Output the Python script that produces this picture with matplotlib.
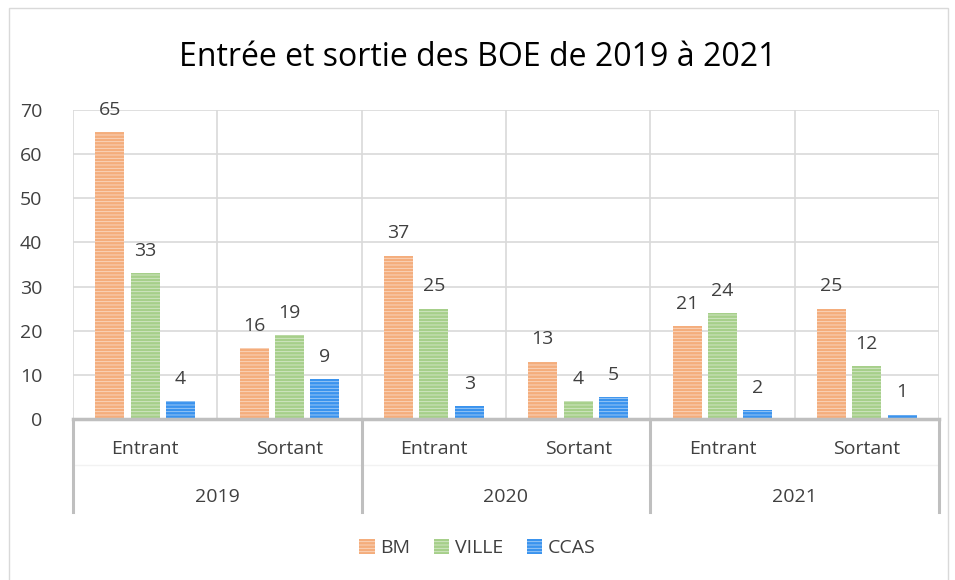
import matplotlib.pyplot as plt
import matplotlib.transforms as mtransforms
from matplotlib.colors import to_rgb
import numpy as np

plt.rcParams['font.family'] = ['Open Sans', 'DejaVu Sans']
plt.rcParams['hatch.linewidth'] = 0.6

years = ["2019", "2020", "2021"]
kinds = ["Entrant", "Sortant"]
series = ["BM", "VILLE", "CCAS"]
bm = [65, 16, 37, 13, 21, 25]
ville = [33, 19, 25, 4, 24, 12]
ccas = [4, 9, 3, 5, 2, 1]
colors = ["#F4AD7C", "#A6CF8A", "#3A93EE"]

fig = plt.figure(figsize=(9.55, 5.8), dpi=100)
ax = fig.add_axes([0.0764, 0.2776, 0.9068, 0.5327])

n = len(bm)
x = np.arange(n)
width = 0.2
step = 0.245
text_col = "#404040"
grid_col = "#D9D9D9"
fs = 14


def lighter(c, f=0.55):
    r, g, b = to_rgb(c)
    return (r + (1 - r) * f, g + (1 - g) * f, b + (1 - b) * f)


for k, (vals, col, name) in enumerate(zip([bm, ville, ccas], colors, series)):
    pos = x + (k - 1) * step
    ax.bar(pos, vals, width=width, color=col, edgecolor=lighter(col),
           linewidth=0, hatch="-----", label=name, zorder=3)
    for px, v in zip(pos, vals):
        ax.text(px, v + 3.0, str(v), ha="center", va="bottom", fontsize=fs,
                color=text_col)

ax.set_xlim(-0.5, n - 0.5)
ax.set_ylim(0, 70)
ax.set_yticks(range(0, 71, 10))
ax.tick_params(axis="y", length=0, labelsize=fs, labelcolor=text_col, pad=22)
ax.set_xticks([])
for s in ax.spines.values():
    s.set_visible(False)
ax.yaxis.grid(True, color=grid_col, linewidth=1.2, zorder=0)
for b in np.arange(-0.5, n, 1):
    ax.axvline(b, color=grid_col, linewidth=1.2, zorder=0)

trans = mtransforms.blended_transform_factory(ax.transData, ax.transAxes)
ax.plot([-0.5, n - 0.5], [0, 0], transform=trans, color="#BFBFBF",
        linewidth=2.5, clip_on=False, zorder=4)
for i in range(n):
    ax.text(x[i], -0.097, kinds[i % 2], transform=trans, ha="center",
            va="center", fontsize=fs, color=text_col)
for j, yr in enumerate(years):
    ax.text(2 * j + 0.5, -0.252, yr, transform=trans, ha="center",
            va="center", fontsize=fs, color=text_col)
for b in [-0.5, 1.5, 3.5, 5.5]:
    ax.plot([b, b], [0, -0.30], transform=trans, color="#BFBFBF",
            linewidth=2.2, clip_on=False)
ax.plot([-0.5, n - 0.5], [-0.15, -0.15], transform=trans, color="#F2F2F2",
        linewidth=1, clip_on=False, zorder=0)

fig.text(0.5, 0.90, "Entrée et sortie des BOE de 2019 à 2021", ha="center",
         va="center", fontsize=23, color="#000000")

leg = fig.legend(loc="center", bbox_to_anchor=(0.5, 0.055), ncol=3,
                 frameon=False, fontsize=fs, handlelength=0.8,
                 handleheight=0.8, handletextpad=0.3, columnspacing=1.2)
for t in leg.get_texts():
    t.set_color(text_col)

fig.patches.append(plt.Rectangle((0.009, -0.01), 0.984, 0.997,
                                 transform=fig.transFigure, fill=False,
                                 edgecolor="#D9D9D9", linewidth=1))

fig.savefig("out.png", dpi=100)
